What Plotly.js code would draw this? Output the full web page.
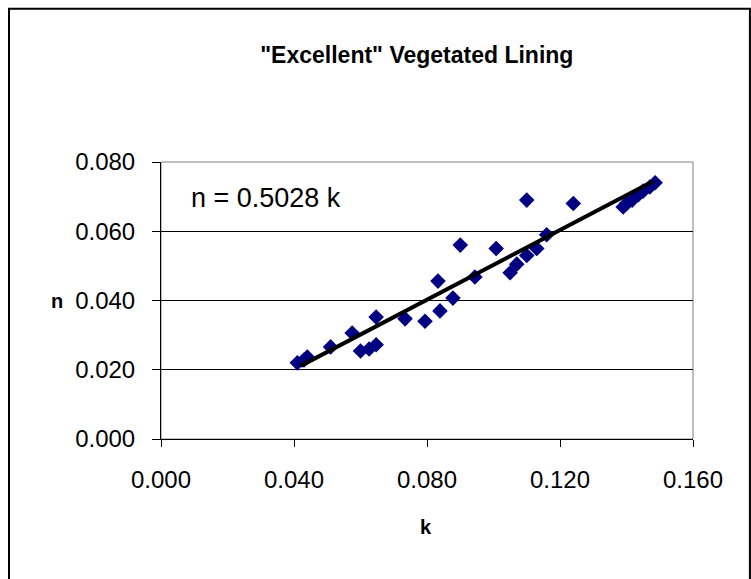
<!DOCTYPE html>
<html>
<head>
<meta charset="utf-8">
<script src="https://cdn.plot.ly/plotly-3.0.1.min.js"></script>
<style>html,body{margin:0;padding:0;background:#fff;}#chart{width:751px;height:579px;}</style>
</head>
<body>
<div id="chart"></div>
<script>
const kValues = [0.041,0.043,0.044,0.051,0.0575,0.060,0.0626,0.0647,0.0647,0.0734,0.0794,0.0839,0.0833,0.0878,0.090,0.0944,0.1008,0.105,0.107,0.110,0.113,0.116,0.110,0.124,0.139,0.140,0.1417,0.1435,0.145,0.147,0.1486];
const nValues = [0.022,0.0228,0.0237,0.0266,0.0306,0.0254,0.026,0.0272,0.0352,0.0347,0.034,0.037,0.0456,0.0407,0.056,0.0468,0.055,0.048,0.0505,0.053,0.055,0.059,0.069,0.068,0.067,0.068,0.069,0.0705,0.0716,0.0728,0.074];
const trendSlope = 0.5028;
const trendRange = [0.042, 0.148];
const xTicks = [0, 0.04, 0.08, 0.12, 0.16];
const yTicks = [0, 0.02, 0.04, 0.06, 0.08];
const chartTitle = '"Excellent" Vegetated Lining';
const equationLabel = 'n = 0.5028 k';
const xTitle = 'k';
const yTitle = 'n';

const FONT = 'Liberation Sans, Arial, sans-serif';

const traces = [
  {
    x: kValues, y: nValues, type: 'scatter', mode: 'markers',
    marker: {symbol: 'diamond', size: 12, color: '#000080', line: {width: 0}},
    hoverinfo: 'skip', showlegend: false
  },
  {
    x: trendRange, y: trendRange.map(k => trendSlope * k), type: 'scatter', mode: 'lines',
    line: {color: '#000000', width: 4}, hoverinfo: 'skip', showlegend: false
  }
];

const layout = {
  width: 751, height: 579,
  paper_bgcolor: '#ffffff', plot_bgcolor: '#ffffff',
  margin: {l: 161, r: 58, t: 162, b: 140},
  showlegend: false,
  title: {text: chartTitle, font: {family: FONT, size: 23, color: '#000', weight: 'bold'}, x: 0.555, xanchor: 'center', y: 0.905, yanchor: 'middle'},
  xaxis: {
    range: [0, 0.16], tickvals: xTicks, ticktext: xTicks.map(v => v.toFixed(3)),
    showgrid: false, zeroline: false, showline: true, linecolor: '#000', linewidth: 1,
    ticks: 'outside', ticklen: 7, tickcolor: '#000', tickwidth: 1, ticklabelstandoff: 12,
    tickfont: {family: FONT, size: 24, color: '#000'}
  },
  yaxis: {
    range: [0, 0.08], tickvals: yTicks, ticktext: yTicks.map(v => v.toFixed(3)),
    showgrid: true, gridcolor: '#000', gridwidth: 1, zeroline: false,
    showline: true, linecolor: '#000', linewidth: 1,
    ticks: 'outside', ticklen: 8, tickcolor: '#000', tickwidth: 1, ticklabelstandoff: 12,
    tickfont: {family: FONT, size: 24, color: '#000'}
  },
  annotations: [
    {text: equationLabel, xref: 'x', yref: 'y', x: 0.0085, y: 0.0695, xanchor: 'left', yanchor: 'middle', showarrow: false,
     font: {family: FONT, size: 27, color: '#000'}},
    {text: '<b>' + xTitle + '</b>', xref: 'paper', yref: 'paper', x: 0.498, y: -0.318, xanchor: 'center', yanchor: 'middle', showarrow: false,
     font: {family: FONT, size: 20, color: '#000'}},
    {text: '<b>' + yTitle + '</b>', xref: 'paper', yref: 'paper', x: -0.195, y: 0.498, xanchor: 'center', yanchor: 'middle', showarrow: false,
     font: {family: FONT, size: 20, color: '#000'}}
  ],
  shapes: [
    {type: 'rect', xref: 'paper', yref: 'paper', x0: 0, x1: 1, y0: 0, y1: 1, line: {color: '#808080', width: 1}, layer: 'below'},
    {type: 'rect', xref: 'paper', yref: 'paper', x0: -0.2857, x1: 1.107, y0: -0.52, y1: 1.553, line: {color: '#000', width: 2}}
  ]
};

Plotly.newPlot('chart', traces, layout, {staticPlot: true, displayModeBar: false});
</script>
</body>
</html>
